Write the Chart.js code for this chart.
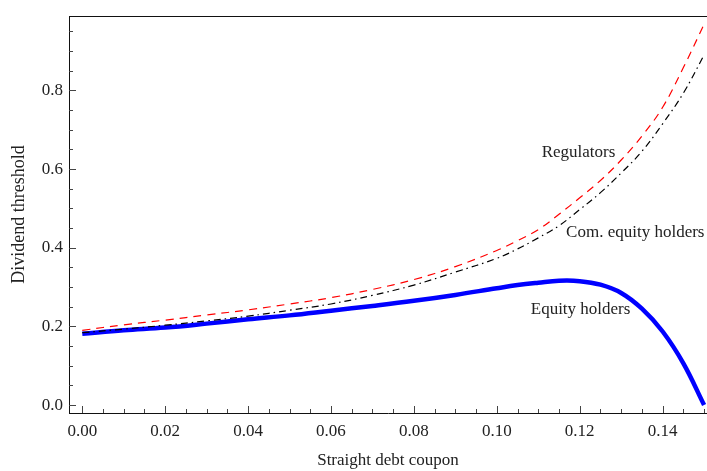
<!DOCTYPE html>
<html>
<head>
<meta charset="utf-8">
<script src="https://cdn.jsdelivr.net/npm/chart.js@4.4.1/dist/chart.umd.min.js"></script>
<style>
  html, body { margin: 0; padding: 0; background: #fff; }
  #wrap { width: 707px; height: 471px; }
</style>
</head>
<body>
<div id="wrap"><canvas id="chart" width="707" height="471"></canvas></div>
<script>
/************************************************************
 * DATA
 ************************************************************/
const coupons = [0, 0.01, 0.02, 0.03, 0.04, 0.05, 0.06, 0.07, 0.08, 0.09, 0.10,
  0.105, 0.11, 0.115, 0.12, 0.125, 0.13, 0.135, 0.14, 0.145, 0.15];

const regulators = [0.190, 0.204, 0.216, 0.229, 0.242, 0.257, 0.273, 0.294, 0.319, 0.352, 0.393,
  0.418, 0.446, 0.485, 0.527, 0.571, 0.623, 0.684, 0.757, 0.858, 0.968];

const comEquityHolders = [0.184, 0.193, 0.203, 0.214, 0.226, 0.241, 0.257, 0.279, 0.305, 0.338, 0.373,
  0.397, 0.425, 0.456, 0.497, 0.540, 0.590, 0.645, 0.715, 0.793, 0.890];

const equityHolders = [0.181, 0.190, 0.197, 0.207, 0.218, 0.228, 0.240, 0.252, 0.265, 0.280, 0.297,
  0.305, 0.311, 0.316, 0.315, 0.306, 0.285, 0.245, 0.187, 0.106, 0.000];

const xTicks = [0, 0.02, 0.04, 0.06, 0.08, 0.10, 0.12, 0.14];
const yTicks = [0, 0.2, 0.4, 0.6, 0.8];

// curve labels: [text, x, y]
const curveLabels = [
  ["Regulators", 0.1197, 0.641],
  ["Com. equity holders", 0.1334, 0.438],
  ["Equity holders", 0.1202, 0.2416],
];

/************************************************************
 * HELPERS
 ************************************************************/
const FONT = "'Liberation Serif', 'DejaVu Serif', serif";
const TEXT = "#222";

function toPoints(ys) {
  return coupons.map((x, i) => ({ x: x, y: ys[i] }));
}

// inward tick marks, top frame line and curve labels
const framePlugin = {
  id: "frame",
  afterDraw(chart) {
    const { ctx, chartArea, scales } = chart;
    const xs = scales.x, ys = scales.y;
    ctx.save();
    ctx.strokeStyle = "#444";
    ctx.lineWidth = 1;

    // x ticks, minor every 0.005
    for (let i = 0; i <= 30; i++) {
      const v = i * 0.005;
      const px = Math.round(xs.getPixelForValue(v)) + 0.5;
      const len = i % 4 === 0 ? 7 : 4;
      ctx.beginPath();
      ctx.moveTo(px, chartArea.bottom);
      ctx.lineTo(px, chartArea.bottom - len);
      ctx.stroke();
    }
    // y ticks, minor every 0.05
    for (let i = 0; i <= 19; i++) {
      const v = i * 0.05;
      const py = Math.round(ys.getPixelForValue(v)) + 0.5;
      const len = i % 4 === 0 ? 7 : 4;
      ctx.beginPath();
      ctx.moveTo(chartArea.left, py);
      ctx.lineTo(chartArea.left + len, py);
      ctx.stroke();
    }

    // top frame line
    ctx.strokeStyle = "#111";
    ctx.beginPath();
    ctx.moveTo(chartArea.left, Math.round(chartArea.top) + 0.5);
    ctx.lineTo(chartArea.right, Math.round(chartArea.top) + 0.5);
    ctx.stroke();

    // curve labels
    ctx.fillStyle = TEXT;
    ctx.font = "17px " + FONT;
    ctx.textAlign = "center";
    ctx.textBaseline = "middle";
    curveLabels.forEach(([t, x, y]) => {
      ctx.fillText(t, xs.getPixelForValue(x), ys.getPixelForValue(y));
    });
    ctx.restore();
  },
};

/************************************************************
 * CHART
 ************************************************************/
new Chart(document.getElementById("chart"), {
  type: "line",
  data: {
    datasets: [
      {
        label: "Com. equity holders",
        data: toPoints(comEquityHolders),
        borderColor: "#000",
        borderWidth: 1.2,
        borderDash: [7, 4, 1.5, 4],
        order: 0,
      },
      {
        label: "Regulators",
        data: toPoints(regulators),
        borderColor: "#ff0000",
        borderWidth: 1.2,
        borderDash: [8, 6],
        order: 1,
      },
      {
        label: "Equity holders",
        data: toPoints(equityHolders),
        borderColor: "#0000ff",
        borderWidth: 4.5,
        order: 2,
      },
    ],
  },
  options: {
    responsive: false,
    animation: false,
    devicePixelRatio: 1,
    layout: { padding: { top: 13, right: 0, left: 0, bottom: 0 } },
    elements: {
      point: { radius: 0 },
      line: { tension: 0.4, fill: false },
    },
    plugins: {
      legend: { display: false },
      tooltip: { enabled: false },
    },
    scales: {
      x: {
        type: "linear",
        min: -0.0032,
        max: 0.1507,
        afterFit: (s) => { s.height = 58; },
        afterBuildTicks: (s) => { s.ticks = xTicks.map((v) => ({ value: v })); },
        grid: { display: false, drawTicks: false },
        border: { display: true, color: "#111", width: 1 },
        ticks: {
          padding: 8,
          color: TEXT,
          font: { family: FONT, size: 17 },
          maxRotation: 0,
          callback: (v) => v.toFixed(2),
        },
        title: {
          display: true,
          text: "Straight debt coupon",
          color: TEXT,
          font: { family: FONT, size: 17 },
          padding: { top: 0, bottom: 0 },
        },
      },
      y: {
        type: "linear",
        min: -0.0202,
        max: 0.9886,
        afterFit: (s) => { s.width = 69; },
        afterBuildTicks: (s) => { s.ticks = yTicks.map((v) => ({ value: v })); },
        grid: { display: false, drawTicks: false },
        border: { display: true, color: "#111", width: 1 },
        ticks: {
          padding: 6,
          color: TEXT,
          font: { family: FONT, size: 17 },
          callback: (v) => v.toFixed(1),
        },
        title: {
          display: true,
          text: "Dividend threshold",
          color: TEXT,
          font: { family: FONT, size: 18 },
          padding: { top: 8, bottom: 0 },
        },
      },
    },
  },
  plugins: [framePlugin],
});
</script>
</body>
</html>
